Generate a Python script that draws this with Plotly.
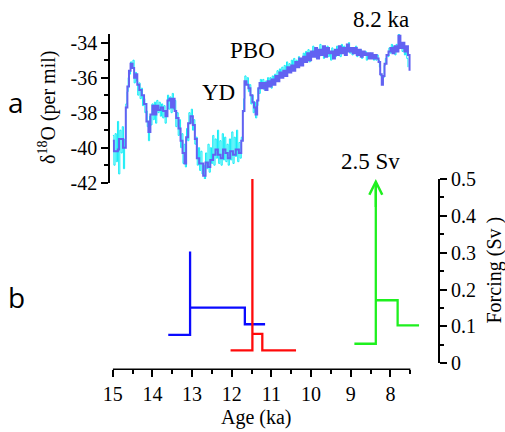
import plotly.graph_objects as go

# ---------------- data ----------------
# panel a: delta18O, smoothed (purple) series
purple_age = [15.00, 14.97, 14.87, 14.84, 14.74, 14.67, 14.63, 14.59, 14.55, 14.50,
              14.46, 14.42, 14.38, 14.33, 14.27, 14.21, 14.15, 14.10, 14.05, 14.00,
              13.95, 13.90, 13.85, 13.79, 13.73, 13.67, 13.62, 13.57, 13.53, 13.49,
              13.44, 13.40, 13.34, 13.29, 13.24, 13.19, 13.15, 13.10, 13.04, 12.98,
              12.93, 12.88, 12.82, 12.72, 12.66, 12.60, 12.54, 12.47, 12.41, 12.35,
              12.28, 12.22, 12.16, 12.10, 12.04, 11.97, 11.90, 11.82, 11.76, 11.72,
              11.68, 11.63, 11.58, 11.53, 11.48, 11.44, 11.40, 11.36, 11.33,
              11.30, 11.25, 11.20, 11.15, 11.10, 11.05, 11.00, 10.95, 10.90, 10.85,
              10.80, 10.75, 10.70, 10.65, 10.60, 10.55, 10.50, 10.45, 10.40, 10.35,
              10.30, 10.25, 10.20, 10.15, 10.10, 10.05, 10.00, 9.95, 9.90, 9.85,
              9.80, 9.75, 9.70, 9.65, 9.60, 9.55, 9.50, 9.45, 9.40, 9.35,
              9.30, 9.25, 9.20, 9.15, 9.10, 9.05, 9.00, 8.95, 8.90, 8.85,
              8.80, 8.75, 8.70, 8.65, 8.60, 8.55, 8.50, 8.45, 8.40, 8.35,
              8.30, 8.26, 8.22, 8.19, 8.15, 8.10, 8.05, 8.00, 7.95, 7.90,
              7.85, 7.80, 7.75, 7.70, 7.65, 7.60, 7.56, 7.52]
purple_d18o = [-39.6, -40.2, -40.1, -39.5, -40.0, -37.7, -36.5, -35.6, -35.2, -35.45,
               -36.0, -35.8, -36.4, -36.7, -37.0, -37.5, -38.5, -39.1, -38.1, -37.6,
               -38.1, -37.6, -37.85, -37.7, -37.9, -38.2, -37.3, -37.2, -37.7, -37.2,
               -37.9, -38.3, -38.9, -39.6, -40.3, -40.9, -39.4, -38.6, -38.2, -38.7,
               -39.5, -40.6, -40.9, -41.6, -40.85, -41.1, -40.7, -40.4, -40.1, -40.4,
               -40.6, -40.1, -40.3, -40.6, -40.2, -40.4, -40.1, -40.3, -39.6, -37.9,
               -36.2, -36.4, -36.6, -37.0, -37.4, -37.7, -38.1, -37.3, -36.6,
               -36.3, -36.6, -36.3, -36.7, -36.2, -36.5, -36.1, -36.4, -35.9, -36.2,
               -35.7, -36.0, -35.6, -35.9, -35.4, -35.7, -35.3, -35.6, -35.1, -35.4,
               -34.9, -35.3, -34.8, -35.1, -34.6, -35.0, -34.5, -34.8, -34.3, -34.9,
               -34.4, -34.7, -34.2, -34.8, -34.3, -34.6, -34.5, -34.9, -34.4, -34.7,
               -34.2, -34.6, -34.3, -34.7, -34.1, -34.5, -34.3, -34.6, -34.3, -34.7,
               -34.4, -34.8, -34.5, -34.7, -34.6, -34.9, -34.6, -34.9, -34.7, -34.9,
               -35.1, -35.8, -36.4, -35.9, -35.2, -34.7, -34.5, -34.3, -34.6, -34.2,
               -34.5, -33.6, -34.3, -34.0, -34.5, -34.2, -34.7, -35.6]

# panel a: delta18O, raw (cyan) series
cyan_age = [15.00, 14.97, 14.94, 14.91, 14.88, 14.85, 14.82, 14.79, 14.76, 14.73,
            14.70, 14.67, 14.64, 14.61, 14.58, 14.55, 14.52, 14.49, 14.46, 14.43,
            14.40, 14.37, 14.34, 14.31, 14.28, 14.25, 14.22, 14.19, 14.16, 14.13,
            14.10, 14.07, 14.04, 14.01, 13.98, 13.95, 13.92, 13.89, 13.86, 13.83,
            13.80, 13.77, 13.74, 13.71, 13.68, 13.65, 13.62, 13.59, 13.56, 13.53,
            13.50, 13.47, 13.44, 13.41, 13.38, 13.35, 13.32, 13.29, 13.26, 13.23,
            13.20, 13.17, 13.14, 13.11, 13.08, 13.05, 13.02, 12.99, 12.96, 12.93,
            12.90, 12.87, 12.84, 12.81, 12.78, 12.75, 12.72, 12.69, 12.66, 12.63,
            12.60, 12.57, 12.54, 12.51, 12.48, 12.45, 12.42, 12.39, 12.36, 12.33,
            12.30, 12.27, 12.24, 12.21, 12.18, 12.15, 12.12, 12.09, 12.06, 12.03,
            12.00, 11.97, 11.94, 11.91, 11.88, 11.85, 11.82, 11.79, 11.76, 11.73,
            11.70, 11.67, 11.64, 11.61, 11.58, 11.55, 11.52, 11.49, 11.46, 11.43,
            11.40, 11.37, 11.34, 11.31, 11.28, 11.25, 11.22, 11.19, 11.16, 11.13,
            11.10, 11.07, 11.04, 11.01, 10.98, 10.95, 10.92, 10.89, 10.86, 10.83,
            10.80, 10.77, 10.74, 10.71, 10.68, 10.65, 10.62, 10.59, 10.56, 10.53,
            10.50, 10.47, 10.44, 10.41, 10.38, 10.35, 10.32, 10.29, 10.26, 10.23,
            10.20, 10.17, 10.14, 10.11, 10.08, 10.05, 10.02, 9.99, 9.96, 9.93,
            9.90, 9.87, 9.84, 9.81, 9.78, 9.75, 9.72, 9.69, 9.66, 9.63,
            9.60, 9.57, 9.54, 9.51, 9.48, 9.45, 9.42, 9.39, 9.36, 9.33,
            9.30, 9.27, 9.24, 9.21, 9.18, 9.15, 9.12, 9.09, 9.06, 9.03,
            9.00, 8.97, 8.94, 8.91, 8.88, 8.85, 8.82, 8.79, 8.76, 8.73,
            8.70, 8.67, 8.64, 8.61, 8.58, 8.55, 8.52, 8.49, 8.46, 8.43,
            8.40, 8.37, 8.34, 8.31, 8.28, 8.25, 8.22, 8.19, 8.16, 8.13,
            8.10, 8.07, 8.04, 8.01, 7.98, 7.95, 7.92, 7.89, 7.86, 7.83,
            7.80, 7.77, 7.74, 7.71, 7.68, 7.65, 7.62, 7.59, 7.56]
cyan_d18o = [-39.3, -41.0, -39.2, -40.8, -38.5, -41.5, -39.0, -40.3, -38.8, -41.2,
             -39.5, -37.5, -36.8, -36.0, -35.8, -35.1, -35.4, -35.0, -36.3, -35.7,
             -36.2, -37.0, -36.3, -37.2, -36.6, -37.6, -37.2, -38.0, -37.9, -38.8,
             -39.6, -38.2, -38.7, -37.5, -38.4, -37.4, -38.6, -37.3, -38.0, -37.4,
             -38.2, -37.5, -38.3, -37.6, -38.6, -37.9, -37.0, -37.8, -37.1, -38.0,
             -36.9, -37.8, -37.3, -38.8, -38.0, -39.3, -38.4, -40.0, -39.2, -40.9,
             -39.8, -41.1, -38.9, -39.6, -38.0, -38.6, -37.8, -39.0, -38.4, -39.8,
             -39.4, -41.0, -40.0, -41.3, -40.2, -41.5, -41.0, -41.8, -40.3, -41.2,
             -39.8, -41.4, -40.0, -40.9, -39.3, -41.0, -39.5, -40.6, -39.0, -40.9,
             -39.6, -41.0, -39.2, -40.7, -39.4, -40.8, -39.8, -41.0, -39.5, -40.7,
             -39.1, -40.9, -39.4, -40.5, -39.0, -40.8, -39.7, -40.6, -39.4, -38.0,
             -37.2, -35.9, -36.4, -36.0, -36.8, -36.4, -37.5, -37.0, -38.0, -37.4,
             -38.3, -37.6, -36.6, -36.9, -36.1, -36.5, -36.1, -36.7, -36.2, -36.6,
             -36.0, -36.4, -36.0, -36.6, -35.9, -36.3, -35.8, -36.2, -35.6, -36.0,
             -35.5, -35.9, -35.4, -35.8, -35.3, -35.7, -35.1, -35.6, -35.2, -35.5,
             -35.0, -35.4, -34.9, -35.3, -35.0, -35.2, -34.8, -35.3, -34.9, -35.1,
             -34.6, -35.0, -34.5, -34.9, -34.4, -35.1, -34.5, -34.8, -34.2, -34.7,
             -34.3, -34.9, -34.4, -34.8, -34.1, -34.6, -34.3, -34.9, -34.4, -34.7,
             -34.2, -34.8, -34.5, -35.0, -34.3, -34.7, -34.4, -34.8, -34.2, -34.6,
             -34.3, -34.8, -34.1, -34.5, -34.2, -34.7, -34.3, -34.5, -34.0, -34.6,
             -34.3, -34.7, -34.4, -34.5, -34.2, -34.8, -34.5, -34.6, -34.4, -34.9,
             -34.6, -34.7, -34.5, -35.0, -34.7, -34.8, -34.6, -34.9, -34.8, -35.0,
             -34.9, -35.0, -34.7, -35.0, -35.4, -35.9, -36.3, -36.0, -35.3, -34.9,
             -34.7, -34.8, -34.3, -34.6, -34.1, -34.6, -34.2, -34.7, -34.1, -34.5,
             -33.5, -34.3, -34.0, -34.5, -34.2, -34.7, -34.3, -34.9, -35.4]

# panel b: freshwater forcing (Sv)
blue_age = [13.60, 13.05, 13.05, 13.05, 11.67, 11.67, 11.16]
blue_sv = [0.077, 0.077, 0.303, 0.151, 0.151, 0.106, 0.106]
red_age = [12.03, 11.48, 11.48, 11.48, 11.23, 11.23, 10.38]
red_sv = [0.035, 0.035, 0.500, 0.080, 0.080, 0.035, 0.035]
green_age = [8.91, 8.37, 8.37, 8.37, 7.82, 7.82, 7.28]
green_sv = [0.053, 0.053, 0.49, 0.171, 0.171, 0.103, 0.103]
green_peak_age = 8.37
green_peak_sv = 0.5

x_ticks = [15, 14, 13, 12, 11, 10, 9, 8]
x_minor = [14.5, 13.5, 12.5, 11.5, 10.5, 9.5, 8.5, 7.5]
d18o_ticks = [-42, -40, -38, -36, -34]
d18o_labels = ["-42", "-40", "-38", "-36", "-34"]
d18o_minor = [-41, -39, -37, -35]
sv_ticks = [0, 0.1, 0.2, 0.3, 0.4, 0.5]
sv_labels = ["0", "0.1", "0.2", "0.3", "0.4", "0.5"]
sv_minor = [0.05, 0.15, 0.25, 0.35, 0.45]

# ---------------- figure ----------------
W, H = 505, 432
SERIF = "Liberation Serif, Times New Roman, DejaVu Serif, serif"
SANS = "Open Sans, DejaVu Sans, sans-serif"


def px(x):
    return x / W


def py(y):
    return 1 - y / H


fig = go.Figure()
fig.add_trace(go.Scatter(x=cyan_age, y=cyan_d18o, mode="lines", line_shape="hv",
                         line=dict(color="#12ecf6", width=1), xaxis="x", yaxis="y"))
fig.add_trace(go.Scatter(x=purple_age, y=purple_d18o, mode="lines", line_shape="hv",
                         line=dict(color="#6262f2", width=2), xaxis="x", yaxis="y"))
fig.add_trace(go.Scatter(x=blue_age, y=blue_sv, mode="lines",
                         line=dict(color="#0a0aff", width=2.3), xaxis="x", yaxis="y2"))
fig.add_trace(go.Scatter(x=red_age, y=red_sv, mode="lines",
                         line=dict(color="#ff0a0a", width=2.3), xaxis="x", yaxis="y2"))
fig.add_trace(go.Scatter(x=green_age, y=green_sv, mode="lines",
                         line=dict(color="#1ef01e", width=2.3), xaxis="x", yaxis="y2"))

tickfont = dict(family=SERIF, size=20, color="black")

fig.update_layout(
    width=W, height=H, margin=dict(l=0, r=0, t=0, b=0, pad=0, autoexpand=False),
    autosize=False,
    paper_bgcolor="white", plot_bgcolor="white", showlegend=False,
    xaxis=dict(domain=[px(112.7), px(439.3)], range=[15, 6.77], anchor="free",
               position=py(369.3), showline=False, showgrid=False, zeroline=False,
               automargin=False,
               tickmode="array", tickvals=x_ticks, ticks="outside", ticklen=6.5,
               tickwidth=1.5, tickcolor="black", tickfont=tickfont,
               minor=dict(tickmode="array", tickvals=x_minor, ticks="outside",
                          ticklen=3.5, tickwidth=1.5, tickcolor="black", showgrid=False)),
    yaxis=dict(domain=[py(182.7), py(33.9)], range=[-42, -33.5], anchor="free",
               position=px(109), showline=True, linewidth=1.5, linecolor="black",
               showgrid=False, zeroline=False, tickmode="array", automargin=False,
               tickvals=d18o_ticks, ticktext=d18o_labels, ticks="outside",
               ticklen=7, tickwidth=1.5, tickcolor="black", tickfont=tickfont,
               minor=dict(tickmode="array", tickvals=d18o_minor, ticks="outside",
                          ticklen=4, tickwidth=1.5, tickcolor="black", showgrid=False)),
    yaxis2=dict(domain=[py(363.3), py(179)], range=[0, 0.5], anchor="free",
                position=px(439.3), side="right", showline=True, linewidth=1.5,
                linecolor="black", showgrid=False, zeroline=False, tickmode="array",
                automargin=False,
                tickvals=sv_ticks, ticktext=sv_labels, ticks="outside",
                ticklen=7, tickwidth=1.5, tickcolor="black", tickfont=tickfont,
                minor=dict(tickmode="array", tickvals=sv_minor, ticks="outside",
                           ticklen=4, tickwidth=1.5, tickcolor="black", showgrid=False)),
)

# x axis line (ends at 7.5 ka)
fig.add_shape(type="line", xref="x", yref="paper", x0=x_ticks[0], x1=x_minor[-1],
              y0=py(369.3), y1=py(369.3), line=dict(color="black", width=1.5))

# green arrow head
fig.add_annotation(x=green_peak_age, y=green_peak_sv, xref="x", yref="y2",
                   ax=green_peak_age, ay=0.42, axref="x", ayref="y2", text="",
                   showarrow=True, arrowhead=5, arrowsize=1.1, arrowwidth=2.3,
                   arrowcolor="#1ef01e", standoff=0)


def label(text, x, y, size=24, family=SERIF, angle=0):
    fig.add_annotation(text=text, x=px(x), y=py(y), xref="paper", yref="paper",
                       showarrow=False, xanchor="center", yanchor="middle",
                       textangle=angle, font=dict(family=family, size=size, color="black"))


label("YD", 218.3, 92.5, 23)
label("PBO", 252, 50.5, 23)
label("8.2 ka", 381, 19, 23)
label("2.5 Sv", 370, 161.5, 23)
label("Age (ka)", 256.7, 417.7, 20)
label("δ<sup>18</sup>O (per mil)", 47, 108, 20, angle=-90)
label("Forcing (Sv )", 493.5, 270, 20, angle=-90)
label("a", 16, 102, 28, family=SANS)
label("b", 16, 297, 28, family=SANS)

fig.write_html("out.html", config={"displayModeBar": False},
               post_script="document.body.style.margin='0';document.body.style.padding='0';")
